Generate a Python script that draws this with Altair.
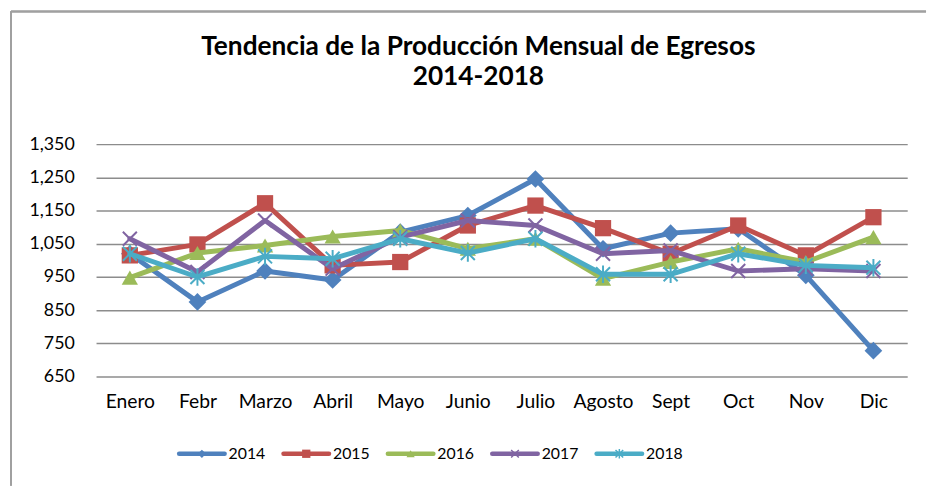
import altair as alt
import pandas as pd

months = ["Enero", "Febr", "Marzo", "Abril", "Mayo", "Junio", "Julio",
          "Agosto", "Sept", "Oct", "Nov", "Dic"]
years = ["2014", "2015", "2016", "2017", "2018"]
v2014 = [1020, 875, 968, 941, 1085, 1135, 1245, 1035, 1082, 1095, 955, 728]
v2015 = [1015, 1048, 1172, 985, 995, 1105, 1165, 1097, 1020, 1105, 1015, 1130]
v2016 = [948, 1022, 1045, 1072, 1090, 1035, 1065, 945, 995, 1035, 995, 1070]
v2017 = [1065, 965, 1120, 975, 1070, 1120, 1105, 1020, 1030, 968, 975, 968]
v2018 = [1020, 950, 1012, 1005, 1065, 1022, 1065, 958, 958, 1020, 985, 978]
y_ticks = [650, 750, 850, 950, 1050, 1150, 1250, 1350]
title_lines = ["Tendencia de la Producción Mensual de Egresos", "2014-2018"]

colors = ["#4F81BD", "#C0504D", "#9BBB59", "#8064A2", "#4BACC6"]
X_PATH = "M-1,-1L1,1M-1,1L1,-1"
AST_PATH = "M-1,-1L1,1M-1,1L1,-1M0,-1.25L0,1.25"
shapes = ["diamond", "square", "triangle-up", X_PATH, AST_PATH]
sizes = [320, 270, 270, 200, 200]
leg_sizes = [70, 70, 70, 60, 60]
filled = [True, True, True, False, False]

series = [v2014, v2015, v2016, v2017, v2018]
rows = []
for yr, vals in zip(years, series):
    for m, v in zip(months, vals):
        rows.append({"Mes": m, "Valor": v, "Año": yr})
df = pd.DataFrame(rows)
leg_df = pd.DataFrame({"Año": years})

FONT = "Lato"
color_scale = alt.Scale(domain=years, range=colors)

xenc = alt.X("Mes:N", sort=months, title=None,
             axis=alt.Axis(labelAngle=0, ticks=False, domain=False, grid=False,
                           labelFont=FONT, labelFontSize=19.5, labelColor="black",
                           labelPadding=16))
yenc = alt.Y("Valor:Q", title=None,
             scale=alt.Scale(domain=[650, 1350], nice=False, zero=False),
             axis=alt.Axis(values=y_ticks, format=",d", ticks=False, domain=False,
                           grid=True, gridColor="#8c8c8c", gridWidth=1.5,
                           labelFont=FONT, labelFontSize=18, labelColor="black",
                           labelPadding=22))
cenc = alt.Color("Año:N", scale=color_scale, legend=None)

layers = [
    alt.Chart(leg_df).mark_rule(color="#a0a0a0", strokeWidth=1.5).encode(
        x=alt.value(-86), x2=alt.value(839), y=alt.value(-134)),
    alt.Chart(leg_df).mark_rule(color="#a0a0a0", strokeWidth=1.5).encode(
        x=alt.value(-86), y=alt.value(-134), y2=alt.value(345)),
]
for i, yr in enumerate(years):
    base = alt.Chart(df).transform_filter(alt.datum["Año"] == yr)
    layers.append(base.mark_line(strokeWidth=5, strokeJoin="round", strokeCap="round")
                  .encode(x=xenc, y=yenc, color=cenc))
    if filled[i]:
        pt = base.mark_point(filled=True, opacity=1, shape=shapes[i], size=sizes[i])
    else:
        pt = base.mark_point(filled=False, opacity=1, shape=shapes[i], size=sizes[i],
                             strokeWidth=2)
    layers.append(pt.encode(x=xenc, y=yenc, color=cenc))

main = alt.layer(*layers).properties(width=820, height=235)

lx = alt.X("Año:N", scale=alt.Scale(type="point", domain=years, range=[107, 529],
                                     padding=0), axis=None)
leg_layers = [
    alt.Chart(leg_df).mark_rule(strokeWidth=4.5, strokeCap="round", xOffset=-23,
                                x2Offset=23).encode(
        x=lx, x2="Año:N", y=alt.value(12), color=cenc),
]
for i, yr in enumerate(years):
    b = alt.Chart(leg_df).transform_filter(alt.datum["Año"] == yr)
    if filled[i]:
        p = b.mark_point(filled=True, opacity=1, shape=shapes[i], size=leg_sizes[i])
    else:
        p = b.mark_point(filled=False, opacity=1, shape=shapes[i], size=leg_sizes[i],
                         strokeWidth=1.5)
    leg_layers.append(p.encode(x=lx, y=alt.value(12), color=cenc))
leg_layers.append(
    alt.Chart(leg_df).mark_text(align="left", baseline="middle", dx=27, font=FONT,
                                fontSize=16, color="black").encode(
        x=lx, y=alt.value(12), text="Año:N"))
legend = alt.layer(*leg_layers).properties(width=820, height=20)

chart = alt.vconcat(
    main, legend, spacing=66, bounds="flush",
    title=alt.TitleParams(text=title_lines, font=FONT, fontSize=26.5, fontWeight="bold",
                          color="black", anchor="middle", frame="bounds",
                          baseline="top", lineHeight=30, offset=-80, dx=10),
).properties(
    padding={"left": 2, "top": 0, "right": 0, "bottom": 0},
    background="white",
).configure_view(stroke=None)

chart.save("out.html", embed_options={"renderer": "svg", "actions": False})
